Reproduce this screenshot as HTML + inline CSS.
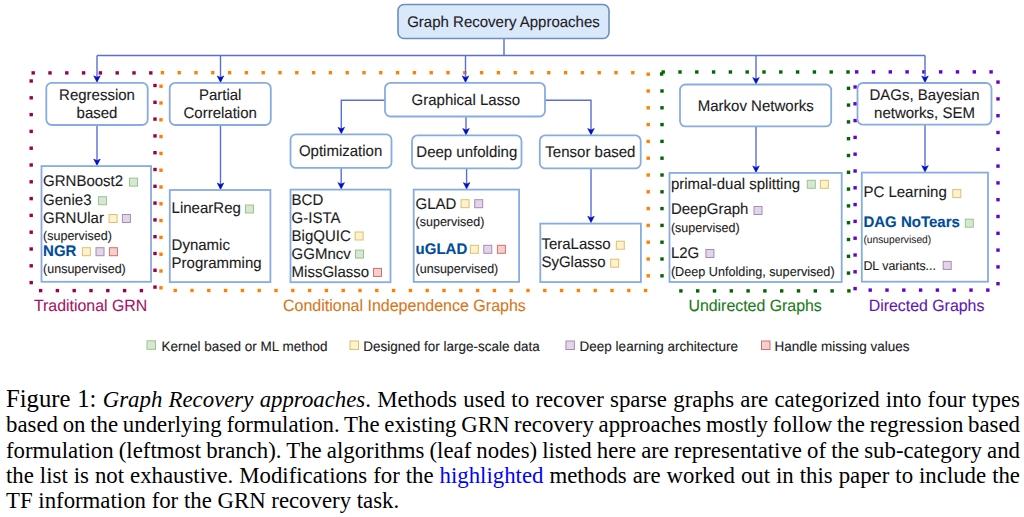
<!DOCTYPE html>
<html><head><meta charset="utf-8">
<style>
html,body{margin:0;padding:0;background:#fff;width:1024px;height:517px;overflow:hidden;}
#d{position:absolute;left:0;top:0;}
#d text{font-family:"Liberation Sans",sans-serif;text-rendering:geometricPrecision;}
.cap{position:absolute;left:6px;width:1014px;font-family:"Liberation Serif",serif;font-size:22.8px;color:#000;white-space:nowrap;}
.j{word-spacing:-3px;text-align:justify;text-align-last:justify;white-space:normal;}
.cap i{font-style:italic;}
.hl{color:#0000FF;}
</style></head><body>
<svg id="d" width="1024" height="517" viewBox="0 0 1024 517">
<rect x="31.50" y="71.20" width="3.4" height="3.4" fill="#99004D"/>
<rect x="48.30" y="71.20" width="3.4" height="3.4" fill="#99004D"/>
<rect x="65.10" y="71.20" width="3.4" height="3.4" fill="#99004D"/>
<rect x="81.90" y="71.20" width="3.4" height="3.4" fill="#99004D"/>
<rect x="98.70" y="71.20" width="3.4" height="3.4" fill="#99004D"/>
<rect x="115.50" y="71.20" width="3.4" height="3.4" fill="#99004D"/>
<rect x="132.30" y="71.20" width="3.4" height="3.4" fill="#99004D"/>
<rect x="149.10" y="71.20" width="3.4" height="3.4" fill="#99004D"/>
<rect x="29.50" y="79.30" width="3.4" height="3.4" fill="#99004D"/>
<rect x="29.50" y="96.10" width="3.4" height="3.4" fill="#99004D"/>
<rect x="29.50" y="112.90" width="3.4" height="3.4" fill="#99004D"/>
<rect x="29.50" y="129.70" width="3.4" height="3.4" fill="#99004D"/>
<rect x="29.50" y="146.50" width="3.4" height="3.4" fill="#99004D"/>
<rect x="29.50" y="163.30" width="3.4" height="3.4" fill="#99004D"/>
<rect x="29.50" y="180.10" width="3.4" height="3.4" fill="#99004D"/>
<rect x="29.50" y="196.90" width="3.4" height="3.4" fill="#99004D"/>
<rect x="29.50" y="213.70" width="3.4" height="3.4" fill="#99004D"/>
<rect x="29.50" y="230.50" width="3.4" height="3.4" fill="#99004D"/>
<rect x="29.50" y="247.30" width="3.4" height="3.4" fill="#99004D"/>
<rect x="29.50" y="264.10" width="3.4" height="3.4" fill="#99004D"/>
<rect x="29.50" y="280.90" width="3.4" height="3.4" fill="#99004D"/>
<rect x="38.90" y="288.90" width="3.4" height="3.4" fill="#99004D"/>
<rect x="55.70" y="288.90" width="3.4" height="3.4" fill="#99004D"/>
<rect x="72.50" y="288.90" width="3.4" height="3.4" fill="#99004D"/>
<rect x="89.30" y="288.90" width="3.4" height="3.4" fill="#99004D"/>
<rect x="106.10" y="288.90" width="3.4" height="3.4" fill="#99004D"/>
<rect x="122.90" y="288.90" width="3.4" height="3.4" fill="#99004D"/>
<rect x="139.70" y="288.90" width="3.4" height="3.4" fill="#99004D"/>
<rect x="153.30" y="83.80" width="3.4" height="3.4" fill="#99004D"/>
<rect x="153.30" y="100.60" width="3.4" height="3.4" fill="#99004D"/>
<rect x="153.30" y="117.40" width="3.4" height="3.4" fill="#99004D"/>
<rect x="153.30" y="134.20" width="3.4" height="3.4" fill="#99004D"/>
<rect x="153.30" y="151.00" width="3.4" height="3.4" fill="#99004D"/>
<rect x="153.30" y="167.80" width="3.4" height="3.4" fill="#99004D"/>
<rect x="153.30" y="184.60" width="3.4" height="3.4" fill="#99004D"/>
<rect x="153.30" y="201.40" width="3.4" height="3.4" fill="#99004D"/>
<rect x="153.30" y="218.20" width="3.4" height="3.4" fill="#99004D"/>
<rect x="153.30" y="235.00" width="3.4" height="3.4" fill="#99004D"/>
<rect x="153.30" y="251.80" width="3.4" height="3.4" fill="#99004D"/>
<rect x="153.30" y="268.60" width="3.4" height="3.4" fill="#99004D"/>
<rect x="153.30" y="285.40" width="3.4" height="3.4" fill="#99004D"/>
<rect x="160.70" y="71.00" width="3.4" height="3.4" fill="#FF8000"/>
<rect x="177.50" y="71.00" width="3.4" height="3.4" fill="#FF8000"/>
<rect x="194.30" y="71.00" width="3.4" height="3.4" fill="#FF8000"/>
<rect x="211.10" y="71.00" width="3.4" height="3.4" fill="#FF8000"/>
<rect x="227.90" y="71.00" width="3.4" height="3.4" fill="#FF8000"/>
<rect x="244.70" y="71.00" width="3.4" height="3.4" fill="#FF8000"/>
<rect x="261.50" y="71.00" width="3.4" height="3.4" fill="#FF8000"/>
<rect x="278.30" y="71.00" width="3.4" height="3.4" fill="#FF8000"/>
<rect x="295.10" y="71.00" width="3.4" height="3.4" fill="#FF8000"/>
<rect x="311.90" y="71.00" width="3.4" height="3.4" fill="#FF8000"/>
<rect x="328.70" y="71.00" width="3.4" height="3.4" fill="#FF8000"/>
<rect x="345.50" y="71.00" width="3.4" height="3.4" fill="#FF8000"/>
<rect x="362.30" y="71.00" width="3.4" height="3.4" fill="#FF8000"/>
<rect x="379.10" y="71.00" width="3.4" height="3.4" fill="#FF8000"/>
<rect x="395.90" y="71.00" width="3.4" height="3.4" fill="#FF8000"/>
<rect x="412.70" y="71.00" width="3.4" height="3.4" fill="#FF8000"/>
<rect x="429.50" y="71.00" width="3.4" height="3.4" fill="#FF8000"/>
<rect x="446.30" y="71.00" width="3.4" height="3.4" fill="#FF8000"/>
<rect x="463.10" y="71.00" width="3.4" height="3.4" fill="#FF8000"/>
<rect x="479.90" y="71.00" width="3.4" height="3.4" fill="#FF8000"/>
<rect x="496.70" y="71.00" width="3.4" height="3.4" fill="#FF8000"/>
<rect x="513.50" y="71.00" width="3.4" height="3.4" fill="#FF8000"/>
<rect x="530.30" y="71.00" width="3.4" height="3.4" fill="#FF8000"/>
<rect x="547.10" y="71.00" width="3.4" height="3.4" fill="#FF8000"/>
<rect x="563.90" y="71.00" width="3.4" height="3.4" fill="#FF8000"/>
<rect x="580.70" y="71.00" width="3.4" height="3.4" fill="#FF8000"/>
<rect x="597.50" y="71.00" width="3.4" height="3.4" fill="#FF8000"/>
<rect x="614.30" y="71.00" width="3.4" height="3.4" fill="#FF8000"/>
<rect x="631.10" y="71.00" width="3.4" height="3.4" fill="#FF8000"/>
<rect x="159.30" y="84.50" width="3.4" height="3.4" fill="#FF8000"/>
<rect x="159.30" y="101.30" width="3.4" height="3.4" fill="#FF8000"/>
<rect x="159.30" y="118.10" width="3.4" height="3.4" fill="#FF8000"/>
<rect x="159.30" y="134.90" width="3.4" height="3.4" fill="#FF8000"/>
<rect x="159.30" y="151.70" width="3.4" height="3.4" fill="#FF8000"/>
<rect x="159.30" y="168.50" width="3.4" height="3.4" fill="#FF8000"/>
<rect x="159.30" y="185.30" width="3.4" height="3.4" fill="#FF8000"/>
<rect x="159.30" y="202.10" width="3.4" height="3.4" fill="#FF8000"/>
<rect x="159.30" y="218.90" width="3.4" height="3.4" fill="#FF8000"/>
<rect x="159.30" y="235.70" width="3.4" height="3.4" fill="#FF8000"/>
<rect x="159.30" y="252.50" width="3.4" height="3.4" fill="#FF8000"/>
<rect x="159.30" y="269.30" width="3.4" height="3.4" fill="#FF8000"/>
<rect x="159.30" y="286.10" width="3.4" height="3.4" fill="#FF8000"/>
<rect x="173.50" y="288.80" width="3.4" height="3.4" fill="#FF8000"/>
<rect x="190.30" y="288.80" width="3.4" height="3.4" fill="#FF8000"/>
<rect x="207.10" y="288.80" width="3.4" height="3.4" fill="#FF8000"/>
<rect x="223.90" y="288.80" width="3.4" height="3.4" fill="#FF8000"/>
<rect x="240.70" y="288.80" width="3.4" height="3.4" fill="#FF8000"/>
<rect x="257.50" y="288.80" width="3.4" height="3.4" fill="#FF8000"/>
<rect x="274.30" y="288.80" width="3.4" height="3.4" fill="#FF8000"/>
<rect x="291.10" y="288.80" width="3.4" height="3.4" fill="#FF8000"/>
<rect x="307.90" y="288.80" width="3.4" height="3.4" fill="#FF8000"/>
<rect x="324.70" y="288.80" width="3.4" height="3.4" fill="#FF8000"/>
<rect x="341.50" y="288.80" width="3.4" height="3.4" fill="#FF8000"/>
<rect x="358.30" y="288.80" width="3.4" height="3.4" fill="#FF8000"/>
<rect x="375.10" y="288.80" width="3.4" height="3.4" fill="#FF8000"/>
<rect x="391.90" y="288.80" width="3.4" height="3.4" fill="#FF8000"/>
<rect x="408.70" y="288.80" width="3.4" height="3.4" fill="#FF8000"/>
<rect x="425.50" y="288.80" width="3.4" height="3.4" fill="#FF8000"/>
<rect x="442.30" y="288.80" width="3.4" height="3.4" fill="#FF8000"/>
<rect x="459.10" y="288.80" width="3.4" height="3.4" fill="#FF8000"/>
<rect x="475.90" y="288.80" width="3.4" height="3.4" fill="#FF8000"/>
<rect x="492.70" y="288.80" width="3.4" height="3.4" fill="#FF8000"/>
<rect x="509.50" y="288.80" width="3.4" height="3.4" fill="#FF8000"/>
<rect x="526.30" y="288.80" width="3.4" height="3.4" fill="#FF8000"/>
<rect x="543.10" y="288.80" width="3.4" height="3.4" fill="#FF8000"/>
<rect x="559.90" y="288.80" width="3.4" height="3.4" fill="#FF8000"/>
<rect x="576.70" y="288.80" width="3.4" height="3.4" fill="#FF8000"/>
<rect x="593.50" y="288.80" width="3.4" height="3.4" fill="#FF8000"/>
<rect x="610.30" y="288.80" width="3.4" height="3.4" fill="#FF8000"/>
<rect x="627.10" y="288.80" width="3.4" height="3.4" fill="#FF8000"/>
<rect x="643.90" y="288.80" width="3.4" height="3.4" fill="#FF8000"/>
<rect x="646.50" y="72.50" width="3.4" height="3.4" fill="#FF8000"/>
<rect x="646.50" y="89.30" width="3.4" height="3.4" fill="#FF8000"/>
<rect x="646.50" y="106.10" width="3.4" height="3.4" fill="#FF8000"/>
<rect x="646.50" y="122.90" width="3.4" height="3.4" fill="#FF8000"/>
<rect x="646.50" y="139.70" width="3.4" height="3.4" fill="#FF8000"/>
<rect x="646.50" y="156.50" width="3.4" height="3.4" fill="#FF8000"/>
<rect x="646.50" y="173.30" width="3.4" height="3.4" fill="#FF8000"/>
<rect x="646.50" y="190.10" width="3.4" height="3.4" fill="#FF8000"/>
<rect x="646.50" y="206.90" width="3.4" height="3.4" fill="#FF8000"/>
<rect x="646.50" y="223.70" width="3.4" height="3.4" fill="#FF8000"/>
<rect x="646.50" y="240.50" width="3.4" height="3.4" fill="#FF8000"/>
<rect x="646.50" y="257.30" width="3.4" height="3.4" fill="#FF8000"/>
<rect x="646.50" y="274.10" width="3.4" height="3.4" fill="#FF8000"/>
<rect x="661.50" y="70.30" width="3.4" height="3.4" fill="#006600"/>
<rect x="678.30" y="70.30" width="3.4" height="3.4" fill="#006600"/>
<rect x="695.10" y="70.30" width="3.4" height="3.4" fill="#006600"/>
<rect x="711.90" y="70.30" width="3.4" height="3.4" fill="#006600"/>
<rect x="728.70" y="70.30" width="3.4" height="3.4" fill="#006600"/>
<rect x="745.50" y="70.30" width="3.4" height="3.4" fill="#006600"/>
<rect x="762.30" y="70.30" width="3.4" height="3.4" fill="#006600"/>
<rect x="779.10" y="70.30" width="3.4" height="3.4" fill="#006600"/>
<rect x="795.90" y="70.30" width="3.4" height="3.4" fill="#006600"/>
<rect x="812.70" y="70.30" width="3.4" height="3.4" fill="#006600"/>
<rect x="829.50" y="70.30" width="3.4" height="3.4" fill="#006600"/>
<rect x="846.30" y="70.30" width="3.4" height="3.4" fill="#006600"/>
<rect x="659.90" y="72.30" width="3.4" height="3.4" fill="#006600"/>
<rect x="660.30" y="89.30" width="3.4" height="3.4" fill="#006600"/>
<rect x="660.30" y="106.10" width="3.4" height="3.4" fill="#006600"/>
<rect x="660.30" y="122.90" width="3.4" height="3.4" fill="#006600"/>
<rect x="660.30" y="139.70" width="3.4" height="3.4" fill="#006600"/>
<rect x="660.30" y="156.50" width="3.4" height="3.4" fill="#006600"/>
<rect x="660.30" y="173.30" width="3.4" height="3.4" fill="#006600"/>
<rect x="660.30" y="190.10" width="3.4" height="3.4" fill="#006600"/>
<rect x="660.30" y="206.90" width="3.4" height="3.4" fill="#006600"/>
<rect x="660.30" y="223.70" width="3.4" height="3.4" fill="#006600"/>
<rect x="660.30" y="240.50" width="3.4" height="3.4" fill="#006600"/>
<rect x="660.30" y="257.30" width="3.4" height="3.4" fill="#006600"/>
<rect x="660.30" y="274.10" width="3.4" height="3.4" fill="#006600"/>
<rect x="679.20" y="289.20" width="3.4" height="3.4" fill="#006600"/>
<rect x="696.00" y="289.20" width="3.4" height="3.4" fill="#006600"/>
<rect x="712.80" y="289.20" width="3.4" height="3.4" fill="#006600"/>
<rect x="729.60" y="289.20" width="3.4" height="3.4" fill="#006600"/>
<rect x="746.40" y="289.20" width="3.4" height="3.4" fill="#006600"/>
<rect x="763.20" y="289.20" width="3.4" height="3.4" fill="#006600"/>
<rect x="780.00" y="289.20" width="3.4" height="3.4" fill="#006600"/>
<rect x="796.80" y="289.20" width="3.4" height="3.4" fill="#006600"/>
<rect x="813.60" y="289.20" width="3.4" height="3.4" fill="#006600"/>
<rect x="830.40" y="289.20" width="3.4" height="3.4" fill="#006600"/>
<rect x="847.20" y="289.20" width="3.4" height="3.4" fill="#006600"/>
<rect x="846.80" y="86.60" width="3.4" height="3.4" fill="#006600"/>
<rect x="846.80" y="103.40" width="3.4" height="3.4" fill="#006600"/>
<rect x="846.80" y="120.20" width="3.4" height="3.4" fill="#006600"/>
<rect x="846.80" y="137.00" width="3.4" height="3.4" fill="#006600"/>
<rect x="846.80" y="153.80" width="3.4" height="3.4" fill="#006600"/>
<rect x="846.80" y="170.60" width="3.4" height="3.4" fill="#006600"/>
<rect x="846.80" y="187.40" width="3.4" height="3.4" fill="#006600"/>
<rect x="846.80" y="204.20" width="3.4" height="3.4" fill="#006600"/>
<rect x="846.80" y="221.00" width="3.4" height="3.4" fill="#006600"/>
<rect x="846.80" y="237.80" width="3.4" height="3.4" fill="#006600"/>
<rect x="846.80" y="254.60" width="3.4" height="3.4" fill="#006600"/>
<rect x="846.80" y="271.40" width="3.4" height="3.4" fill="#006600"/>
<rect x="855.00" y="70.20" width="3.4" height="3.4" fill="#6600CC"/>
<rect x="871.80" y="70.20" width="3.4" height="3.4" fill="#6600CC"/>
<rect x="888.60" y="70.20" width="3.4" height="3.4" fill="#6600CC"/>
<rect x="905.40" y="70.20" width="3.4" height="3.4" fill="#6600CC"/>
<rect x="922.20" y="70.20" width="3.4" height="3.4" fill="#6600CC"/>
<rect x="939.00" y="70.20" width="3.4" height="3.4" fill="#6600CC"/>
<rect x="955.80" y="70.20" width="3.4" height="3.4" fill="#6600CC"/>
<rect x="972.60" y="70.20" width="3.4" height="3.4" fill="#6600CC"/>
<rect x="989.40" y="70.20" width="3.4" height="3.4" fill="#6600CC"/>
<rect x="853.40" y="85.30" width="3.4" height="3.4" fill="#6600CC"/>
<rect x="853.40" y="102.10" width="3.4" height="3.4" fill="#6600CC"/>
<rect x="853.40" y="118.90" width="3.4" height="3.4" fill="#6600CC"/>
<rect x="853.40" y="135.70" width="3.4" height="3.4" fill="#6600CC"/>
<rect x="853.40" y="152.50" width="3.4" height="3.4" fill="#6600CC"/>
<rect x="853.40" y="169.30" width="3.4" height="3.4" fill="#6600CC"/>
<rect x="853.40" y="186.10" width="3.4" height="3.4" fill="#6600CC"/>
<rect x="853.40" y="202.90" width="3.4" height="3.4" fill="#6600CC"/>
<rect x="853.40" y="219.70" width="3.4" height="3.4" fill="#6600CC"/>
<rect x="853.40" y="236.50" width="3.4" height="3.4" fill="#6600CC"/>
<rect x="853.40" y="253.30" width="3.4" height="3.4" fill="#6600CC"/>
<rect x="853.40" y="270.10" width="3.4" height="3.4" fill="#6600CC"/>
<rect x="853.40" y="286.90" width="3.4" height="3.4" fill="#6600CC"/>
<rect x="868.50" y="288.40" width="3.4" height="3.4" fill="#6600CC"/>
<rect x="885.30" y="288.40" width="3.4" height="3.4" fill="#6600CC"/>
<rect x="902.10" y="288.40" width="3.4" height="3.4" fill="#6600CC"/>
<rect x="918.90" y="288.40" width="3.4" height="3.4" fill="#6600CC"/>
<rect x="935.70" y="288.40" width="3.4" height="3.4" fill="#6600CC"/>
<rect x="952.50" y="288.40" width="3.4" height="3.4" fill="#6600CC"/>
<rect x="969.30" y="288.40" width="3.4" height="3.4" fill="#6600CC"/>
<rect x="986.10" y="288.40" width="3.4" height="3.4" fill="#6600CC"/>
<rect x="996.30" y="80.40" width="3.4" height="3.4" fill="#6600CC"/>
<rect x="996.30" y="97.20" width="3.4" height="3.4" fill="#6600CC"/>
<rect x="996.30" y="114.00" width="3.4" height="3.4" fill="#6600CC"/>
<rect x="996.30" y="130.80" width="3.4" height="3.4" fill="#6600CC"/>
<rect x="996.30" y="147.60" width="3.4" height="3.4" fill="#6600CC"/>
<rect x="996.30" y="164.40" width="3.4" height="3.4" fill="#6600CC"/>
<rect x="996.30" y="181.20" width="3.4" height="3.4" fill="#6600CC"/>
<rect x="996.30" y="198.00" width="3.4" height="3.4" fill="#6600CC"/>
<rect x="996.30" y="214.80" width="3.4" height="3.4" fill="#6600CC"/>
<rect x="996.30" y="231.60" width="3.4" height="3.4" fill="#6600CC"/>
<rect x="996.30" y="248.40" width="3.4" height="3.4" fill="#6600CC"/>
<rect x="996.30" y="265.20" width="3.4" height="3.4" fill="#6600CC"/>
<rect x="996.30" y="282.00" width="3.4" height="3.4" fill="#6600CC"/>
<path d="M504,38.5 L504,55.5" fill="none" stroke="#5A6ED8" stroke-width="1.4"/>
<path d="M97,55.5 L925,55.5" fill="none" stroke="#5A6ED8" stroke-width="1.4"/>
<path d="M97,55.5 L97,77.6" fill="none" stroke="#5A6ED8" stroke-width="1.4"/>
<path d="M97,82.3 L93.7,75.8 L97,77.3 L100.3,75.8 Z" fill="#0010C0" stroke="#0010C0" stroke-width="0.5" stroke-linejoin="miter"/>
<path d="M220.5,55.5 L220.5,77.7" fill="none" stroke="#5A6ED8" stroke-width="1.4"/>
<path d="M220.5,82.4 L217.2,75.9 L220.5,77.4 L223.8,75.9 Z" fill="#0010C0" stroke="#0010C0" stroke-width="0.5" stroke-linejoin="miter"/>
<path d="M465.5,55.5 L465.5,77.7" fill="none" stroke="#5A6ED8" stroke-width="1.4"/>
<path d="M465.5,82.4 L462.2,75.9 L465.5,77.4 L468.8,75.9 Z" fill="#0010C0" stroke="#0010C0" stroke-width="0.5" stroke-linejoin="miter"/>
<path d="M756,55.5 L756,79.3" fill="none" stroke="#5A6ED8" stroke-width="1.4"/>
<path d="M756,84.0 L752.7,77.5 L756,79.0 L759.3,77.5 Z" fill="#0010C0" stroke="#0010C0" stroke-width="0.5" stroke-linejoin="miter"/>
<path d="M925,55.5 L925,77.8" fill="none" stroke="#5A6ED8" stroke-width="1.4"/>
<path d="M925,82.5 L921.7,76.0 L925,77.5 L928.3,76.0 Z" fill="#0010C0" stroke="#0010C0" stroke-width="0.5" stroke-linejoin="miter"/>
<path d="M385,100.2 L341.3,100.2 L341.3,129.1" fill="none" stroke="#5A6ED8" stroke-width="1.4"/>
<path d="M341.3,133.79999999999998 L338.0,127.3 L341.3,128.79999999999998 L344.6,127.3 Z" fill="#0010C0" stroke="#0010C0" stroke-width="0.5" stroke-linejoin="miter"/>
<path d="M466,116.5 L466,130.2" fill="none" stroke="#5A6ED8" stroke-width="1.4"/>
<path d="M466,134.89999999999998 L462.7,128.39999999999998 L466,129.89999999999998 L469.3,128.39999999999998 Z" fill="#0010C0" stroke="#0010C0" stroke-width="0.5" stroke-linejoin="miter"/>
<path d="M545,100.2 L591,100.2 L591,130.2" fill="none" stroke="#5A6ED8" stroke-width="1.4"/>
<path d="M591,134.89999999999998 L587.7,128.39999999999998 L591,129.89999999999998 L594.3,128.39999999999998 Z" fill="#0010C0" stroke="#0010C0" stroke-width="0.5" stroke-linejoin="miter"/>
<path d="M97,125 L97,160.9" fill="none" stroke="#5A6ED8" stroke-width="1.4"/>
<path d="M97,165.6 L93.7,159.1 L97,160.6 L100.3,159.1 Z" fill="#0010C0" stroke="#0010C0" stroke-width="0.5" stroke-linejoin="miter"/>
<path d="M220.5,125 L220.5,184.8" fill="none" stroke="#5A6ED8" stroke-width="1.4"/>
<path d="M220.5,189.5 L217.2,183.0 L220.5,184.5 L223.8,183.0 Z" fill="#0010C0" stroke="#0010C0" stroke-width="0.5" stroke-linejoin="miter"/>
<path d="M341.2,168 L341.2,184.4" fill="none" stroke="#5A6ED8" stroke-width="1.4"/>
<path d="M341.2,189.1 L337.9,182.6 L341.2,184.1 L344.5,182.6 Z" fill="#0010C0" stroke="#0010C0" stroke-width="0.5" stroke-linejoin="miter"/>
<path d="M466.6,168.4 L466.6,184.4" fill="none" stroke="#5A6ED8" stroke-width="1.4"/>
<path d="M466.6,189.1 L463.3,182.6 L466.6,184.1 L469.90000000000003,182.6 Z" fill="#0010C0" stroke="#0010C0" stroke-width="0.5" stroke-linejoin="miter"/>
<path d="M591,168.4 L591,218" fill="none" stroke="#5A6ED8" stroke-width="1.4"/>
<path d="M591,222.7 L587.7,216.2 L591,217.7 L594.3,216.2 Z" fill="#0010C0" stroke="#0010C0" stroke-width="0.5" stroke-linejoin="miter"/>
<path d="M756,126.4 L756,167.7" fill="none" stroke="#5A6ED8" stroke-width="1.4"/>
<path d="M756,172.39999999999998 L752.7,165.89999999999998 L756,167.39999999999998 L759.3,165.89999999999998 Z" fill="#0010C0" stroke="#0010C0" stroke-width="0.5" stroke-linejoin="miter"/>
<path d="M925,124.7 L925,167.4" fill="none" stroke="#5A6ED8" stroke-width="1.4"/>
<path d="M925,172.1 L921.7,165.6 L925,167.1 L928.3,165.6 Z" fill="#0010C0" stroke="#0010C0" stroke-width="0.5" stroke-linejoin="miter"/>
<rect x="398" y="4.5" width="211.00" height="34.00" rx="6" ry="6" fill="#DAE8FC" stroke="#6C8EBF" stroke-width="1.6"/>
<rect x="46.3" y="82.8" width="101.40" height="42.20" rx="5.5" ry="5.5" fill="#FFFFFF" stroke="#86ACE3" stroke-width="1.8"/>
<rect x="169.7" y="82.9" width="101.10" height="42.10" rx="5.5" ry="5.5" fill="#FFFFFF" stroke="#86ACE3" stroke-width="1.8"/>
<rect x="385" y="82.9" width="160.00" height="33.60" rx="5.5" ry="5.5" fill="#FFFFFF" stroke="#86ACE3" stroke-width="1.8"/>
<rect x="680" y="84.5" width="151.20" height="41.90" rx="5.5" ry="5.5" fill="#FFFFFF" stroke="#86ACE3" stroke-width="1.8"/>
<rect x="857.5" y="83" width="134.00" height="41.70" rx="5.5" ry="5.5" fill="#FFFFFF" stroke="#86ACE3" stroke-width="1.8"/>
<rect x="290.5" y="134.3" width="101.00" height="33.60" rx="5.5" ry="5.5" fill="#FFFFFF" stroke="#86ACE3" stroke-width="1.8"/>
<rect x="412" y="135.4" width="109.50" height="33.00" rx="5.5" ry="5.5" fill="#FFFFFF" stroke="#86ACE3" stroke-width="1.8"/>
<rect x="539.8" y="135.4" width="100.90" height="33.00" rx="5.5" ry="5.5" fill="#FFFFFF" stroke="#86ACE3" stroke-width="1.8"/>
<rect x="41.5" y="166.1" width="109.50" height="115.70" fill="#FFFFFF" stroke="#86ACE3" stroke-width="1.8"/>
<rect x="169.8" y="190" width="100.60" height="92.10" fill="#FFFFFF" stroke="#86ACE3" stroke-width="1.8"/>
<rect x="290.5" y="189.6" width="100.00" height="92.60" fill="#FFFFFF" stroke="#86ACE3" stroke-width="1.8"/>
<rect x="413.7" y="189.6" width="105.40" height="92.30" fill="#FFFFFF" stroke="#86ACE3" stroke-width="1.8"/>
<rect x="540.3" y="223.6" width="100.60" height="58.50" fill="#FFFFFF" stroke="#86ACE3" stroke-width="1.8"/>
<rect x="669.5" y="172.9" width="172.20" height="109.10" fill="#FFFFFF" stroke="#86ACE3" stroke-width="1.8"/>
<rect x="861.8" y="172.6" width="126.20" height="109.10" fill="#FFFFFF" stroke="#86ACE3" stroke-width="1.8"/>
<text transform="translate(503.5,27.3) scale(1,1.025)" font-size="15" text-anchor="middle" fill="#1C1C1C" stroke="#1C1C1C" stroke-width="0.12" font-weight="normal">Graph Recovery Approaches</text>
<text transform="translate(97,99.5) scale(1,1.025)" font-size="15" text-anchor="middle" fill="#1C1C1C" stroke="#1C1C1C" stroke-width="0.12" font-weight="normal">Regression</text>
<text transform="translate(97,118.1) scale(1,1.025)" font-size="15" text-anchor="middle" fill="#1C1C1C" stroke="#1C1C1C" stroke-width="0.12" font-weight="normal">based</text>
<text transform="translate(220.2,99.5) scale(1,1.025)" font-size="15" text-anchor="middle" fill="#1C1C1C" stroke="#1C1C1C" stroke-width="0.12" font-weight="normal">Partial</text>
<text transform="translate(220.2,118.1) scale(1,1.025)" font-size="15" text-anchor="middle" fill="#1C1C1C" stroke="#1C1C1C" stroke-width="0.12" font-weight="normal">Correlation</text>
<text transform="translate(465.8,104.9) scale(1,1.025)" font-size="15" text-anchor="middle" fill="#1C1C1C" stroke="#1C1C1C" stroke-width="0.12" font-weight="normal">Graphical Lasso</text>
<text transform="translate(755.7,110.8) scale(1,1.025)" font-size="15" text-anchor="middle" fill="#1C1C1C" stroke="#1C1C1C" stroke-width="0.12" font-weight="normal">Markov Networks</text>
<text transform="translate(924.5,99.5) scale(1,1.025)" font-size="15" text-anchor="middle" fill="#1C1C1C" stroke="#1C1C1C" stroke-width="0.12" font-weight="normal">DAGs, Bayesian</text>
<text transform="translate(924.5,118.1) scale(1,1.025)" font-size="15" text-anchor="middle" fill="#1C1C1C" stroke="#1C1C1C" stroke-width="0.12" font-weight="normal">networks, SEM</text>
<text transform="translate(340.6,156) scale(1,1.025)" font-size="15" text-anchor="middle" fill="#1C1C1C" stroke="#1C1C1C" stroke-width="0.12" font-weight="normal">Optimization</text>
<text transform="translate(466.8,157.1) scale(1,1.025)" font-size="15" text-anchor="middle" fill="#1C1C1C" stroke="#1C1C1C" stroke-width="0.12" font-weight="normal">Deep unfolding</text>
<text transform="translate(590.4,157.1) scale(1,1.025)" font-size="15" text-anchor="middle" fill="#1C1C1C" stroke="#1C1C1C" stroke-width="0.12" font-weight="normal">Tensor based</text>
<text transform="translate(43.1,186.1) scale(1,1.025)" font-size="15" text-anchor="start" fill="#1C1C1C" stroke="#1C1C1C" stroke-width="0.12" font-weight="normal">GRNBoost2</text>
<rect x="129.5" y="178.1" width="8" height="8" fill="#D5E8D4" stroke="#9DC38C" stroke-width="1"/>
<text transform="translate(43.1,204.5) scale(1,1.025)" font-size="15" text-anchor="start" fill="#1C1C1C" stroke="#1C1C1C" stroke-width="0.12" font-weight="normal">Genie3</text>
<rect x="98.5" y="196.7" width="8" height="8" fill="#D5E8D4" stroke="#9DC38C" stroke-width="1"/>
<text transform="translate(43.1,222.6) scale(1,1.025)" font-size="15" text-anchor="start" fill="#1C1C1C" stroke="#1C1C1C" stroke-width="0.12" font-weight="normal">GRNUlar</text>
<rect x="109.1" y="214.5" width="8" height="8" fill="#FFF2CC" stroke="#DCC06E" stroke-width="1"/>
<rect x="122.4" y="214.5" width="8" height="8" fill="#E1D5E7" stroke="#A88BB8" stroke-width="1"/>
<text transform="translate(43.1,239.5) scale(1,1.025)" font-size="12.5" text-anchor="start" fill="#1C1C1C" stroke="#1C1C1C" stroke-width="0.12" font-weight="normal">(supervised)</text>
<text transform="translate(43.1,256) scale(1,1.025)" font-size="15" text-anchor="start" fill="#004C99" stroke="#004C99" stroke-width="0.12" font-weight="bold">NGR</text>
<rect x="82.4" y="247.7" width="8" height="8" fill="#FFF2CC" stroke="#DCC06E" stroke-width="1"/>
<rect x="96.0" y="247.7" width="8" height="8" fill="#E1D5E7" stroke="#A88BB8" stroke-width="1"/>
<rect x="109.4" y="247.7" width="8" height="8" fill="#F8CECC" stroke="#C97470" stroke-width="1"/>
<text transform="translate(43.1,272.7) scale(1,1.025)" font-size="12.5" text-anchor="start" fill="#1C1C1C" stroke="#1C1C1C" stroke-width="0.12" font-weight="normal">(unsupervised)</text>
<text transform="translate(171.6,213.3) scale(1,1.025)" font-size="15" text-anchor="start" fill="#1C1C1C" stroke="#1C1C1C" stroke-width="0.12" font-weight="normal">LinearReg</text>
<rect x="245.5" y="205.0" width="8" height="8" fill="#D5E8D4" stroke="#9DC38C" stroke-width="1"/>
<text transform="translate(171.6,249.7) scale(1,1.025)" font-size="15" text-anchor="start" fill="#1C1C1C" stroke="#1C1C1C" stroke-width="0.12" font-weight="normal">Dynamic</text>
<text transform="translate(171.6,267.9) scale(1,1.025)" font-size="15" text-anchor="start" fill="#1C1C1C" stroke="#1C1C1C" stroke-width="0.12" font-weight="normal">Programming</text>
<text transform="translate(291.6,205.2) scale(1,1.025)" font-size="15" text-anchor="start" fill="#1C1C1C" stroke="#1C1C1C" stroke-width="0.12" font-weight="normal">BCD</text>
<text transform="translate(291.6,222.6) scale(1,1.025)" font-size="15" text-anchor="start" fill="#1C1C1C" stroke="#1C1C1C" stroke-width="0.12" font-weight="normal">G-ISTA</text>
<text transform="translate(291.6,240.6) scale(1,1.025)" font-size="15" text-anchor="start" fill="#1C1C1C" stroke="#1C1C1C" stroke-width="0.12" font-weight="normal">BigQUIC</text>
<rect x="355.1" y="232.0" width="8" height="8" fill="#FFF2CC" stroke="#DCC06E" stroke-width="1"/>
<text transform="translate(291.6,258.6) scale(1,1.025)" font-size="15" text-anchor="start" fill="#1C1C1C" stroke="#1C1C1C" stroke-width="0.12" font-weight="normal">GGMncv</text>
<rect x="355.5" y="250.1" width="8" height="8" fill="#D5E8D4" stroke="#9DC38C" stroke-width="1"/>
<text transform="translate(291.6,276.6) scale(1,1.025)" font-size="15" text-anchor="start" fill="#1C1C1C" stroke="#1C1C1C" stroke-width="0.12" font-weight="normal">MissGlasso</text>
<rect x="373.5" y="268.4" width="8" height="8" fill="#F8CECC" stroke="#C97470" stroke-width="1"/>
<text transform="translate(415.6,209) scale(1,1.025)" font-size="15" text-anchor="start" fill="#1C1C1C" stroke="#1C1C1C" stroke-width="0.12" font-weight="normal">GLAD</text>
<rect x="461.1" y="199.7" width="8" height="8" fill="#FFF2CC" stroke="#DCC06E" stroke-width="1"/>
<rect x="474.7" y="199.7" width="8" height="8" fill="#E1D5E7" stroke="#A88BB8" stroke-width="1"/>
<text transform="translate(415.6,225.8) scale(1,1.025)" font-size="12.5" text-anchor="start" fill="#1C1C1C" stroke="#1C1C1C" stroke-width="0.12" font-weight="normal">(supervised)</text>
<text transform="translate(415.6,253.8) scale(1,1.025)" font-size="15" text-anchor="start" fill="#004C99" stroke="#004C99" stroke-width="0.12" font-weight="bold">uGLAD</text>
<rect x="470.3" y="245.3" width="8" height="8" fill="#FFF2CC" stroke="#DCC06E" stroke-width="1"/>
<rect x="483.8" y="245.3" width="8" height="8" fill="#E1D5E7" stroke="#A88BB8" stroke-width="1"/>
<rect x="497.4" y="245.3" width="8" height="8" fill="#F8CECC" stroke="#C97470" stroke-width="1"/>
<text transform="translate(415.6,273.0) scale(1,1.025)" font-size="12.5" text-anchor="start" fill="#1C1C1C" stroke="#1C1C1C" stroke-width="0.12" font-weight="normal">(unsupervised)</text>
<text transform="translate(541.4,249.1) scale(1,1.025)" font-size="15" text-anchor="start" fill="#1C1C1C" stroke="#1C1C1C" stroke-width="0.12" font-weight="normal">TeraLasso</text>
<rect x="616.3" y="241.2" width="8" height="8" fill="#FFF2CC" stroke="#DCC06E" stroke-width="1"/>
<text transform="translate(541.4,267.0) scale(1,1.025)" font-size="15" text-anchor="start" fill="#1C1C1C" stroke="#1C1C1C" stroke-width="0.12" font-weight="normal">SyGlasso</text>
<rect x="610.7" y="259.2" width="8" height="8" fill="#FFF2CC" stroke="#DCC06E" stroke-width="1"/>
<text transform="translate(670.9,188.6) scale(1,1.025)" font-size="15" text-anchor="start" fill="#1C1C1C" stroke="#1C1C1C" stroke-width="0.12" font-weight="normal">primal-dual splitting</text>
<rect x="807.3" y="180.3" width="8" height="8" fill="#D5E8D4" stroke="#9DC38C" stroke-width="1"/>
<rect x="820.3" y="180.3" width="8" height="8" fill="#FFF2CC" stroke="#DCC06E" stroke-width="1"/>
<text transform="translate(670.9,214) scale(1,1.025)" font-size="15" text-anchor="start" fill="#1C1C1C" stroke="#1C1C1C" stroke-width="0.12" font-weight="normal">DeepGraph</text>
<rect x="754.0" y="206.5" width="8" height="8" fill="#E1D5E7" stroke="#A88BB8" stroke-width="1"/>
<text transform="translate(670.9,232.2) scale(1,1.025)" font-size="12.5" text-anchor="start" fill="#1C1C1C" stroke="#1C1C1C" stroke-width="0.12" font-weight="normal">(supervised)</text>
<text transform="translate(670.9,258.2) scale(1,1.025)" font-size="15" text-anchor="start" fill="#1C1C1C" stroke="#1C1C1C" stroke-width="0.12" font-weight="normal">L2G</text>
<rect x="705.9" y="249.5" width="8" height="8" fill="#E1D5E7" stroke="#A88BB8" stroke-width="1"/>
<text transform="translate(670.9,275.6) scale(1,1.025)" font-size="12.65" text-anchor="start" fill="#1C1C1C" stroke="#1C1C1C" stroke-width="0.12" font-weight="normal">(Deep Unfolding, supervised)</text>
<text transform="translate(863.4,196.8) scale(1,1.025)" font-size="15" text-anchor="start" fill="#1C1C1C" stroke="#1C1C1C" stroke-width="0.12" font-weight="normal">PC Learning</text>
<rect x="952.8" y="189.6" width="8" height="8" fill="#FFF2CC" stroke="#DCC06E" stroke-width="1"/>
<text transform="translate(863.4,226.7) scale(1,1.025)" font-size="15" text-anchor="start" fill="#004C99" stroke="#004C99" stroke-width="0.12" font-weight="bold">DAG NoTears</text>
<rect x="965.3" y="219.2" width="8" height="8" fill="#D5E8D4" stroke="#9DC38C" stroke-width="1"/>
<text transform="translate(863.4,243) scale(1,1.025)" font-size="10.25" text-anchor="start" fill="#1C1C1C" stroke="#1C1C1C" stroke-width="0.05" font-weight="normal">(unsupervised)</text>
<text transform="translate(863.4,269.7) scale(1,1.025)" font-size="12.4" text-anchor="start" fill="#1C1C1C" stroke="#1C1C1C" stroke-width="0.12" font-weight="normal">DL variants...</text>
<rect x="943.2" y="261.4" width="8" height="8" fill="#E1D5E7" stroke="#A88BB8" stroke-width="1"/>
<text transform="translate(90.6,310.9) scale(1,1.025)" font-size="15.9" text-anchor="middle" fill="#A3145F" stroke="#A3145F" stroke-width="0.1" font-weight="normal">Traditional GRN</text>
<text transform="translate(404.4,311.1) scale(1,1.025)" font-size="16" text-anchor="middle" fill="#D4781A" stroke="#D4781A" stroke-width="0.1" font-weight="normal">Conditional Independence Graphs</text>
<text transform="translate(755.1,310.8) scale(1,1.025)" font-size="15.9" text-anchor="middle" fill="#1A7A1A" stroke="#1A7A1A" stroke-width="0.1" font-weight="normal">Undirected Graphs</text>
<text transform="translate(926.5,311.1) scale(1,1.025)" font-size="15.9" text-anchor="middle" fill="#6018B0" stroke="#6018B0" stroke-width="0.1" font-weight="normal">Directed Graphs</text>
<rect x="147.0" y="340.8" width="8.5" height="8.5" fill="#D5E8D4" stroke="#9DC38C" stroke-width="1"/>
<text transform="translate(161.5,350.5) scale(1,1.025)" font-size="13.5" text-anchor="start" fill="#1C1C1C" stroke="#1C1C1C" stroke-width="0.12" font-weight="normal">Kernel based or ML method</text>
<rect x="350.0" y="341.0" width="8.5" height="8.5" fill="#FFF2CC" stroke="#DCC06E" stroke-width="1"/>
<text transform="translate(363.3,350.8) scale(1,1.025)" font-size="13.5" text-anchor="start" fill="#1C1C1C" stroke="#1C1C1C" stroke-width="0.12" font-weight="normal">Designed for large-scale data</text>
<rect x="565.9" y="341.0" width="8.5" height="8.5" fill="#E1D5E7" stroke="#A88BB8" stroke-width="1"/>
<text transform="translate(579.6,350.8) scale(1,1.025)" font-size="13.5" text-anchor="start" fill="#1C1C1C" stroke="#1C1C1C" stroke-width="0.12" font-weight="normal">Deep learning architecture</text>
<rect x="761.5" y="341.0" width="8.5" height="8.5" fill="#F8CECC" stroke="#C97470" stroke-width="1"/>
<text transform="translate(774.4,350.8) scale(1,1.025)" font-size="13.5" text-anchor="start" fill="#1C1C1C" stroke="#1C1C1C" stroke-width="0.12" font-weight="normal">Handle missing values</text>
</svg>
<div class="cap j" style="top:387px;height:26px;line-height:26px"><span style="font-size:24.7px;line-height:20px">Figure 1:</span> <i>Graph Recovery approaches</i>. Methods used to recover sparse graphs are categorized into four types</div>
<div class="cap j" style="top:412.3px;height:26px;line-height:26px">based on the underlying formulation. The existing GRN recovery approaches mostly follow the regression based</div>
<div class="cap j" style="top:437.9px;height:26px;line-height:26px">formulation (leftmost branch). The algorithms (leaf nodes) listed here are representative of the sub-category and</div>
<div class="cap j" style="top:463.1px;height:26px;line-height:26px">the list is not exhaustive. Modifications for the <span class="hl">highlighted</span> methods are worked out in this paper to include the</div>
<div class="cap" style="top:488.4px;height:26px;line-height:26px">TF information for the GRN recovery task.</div>
</body></html>
